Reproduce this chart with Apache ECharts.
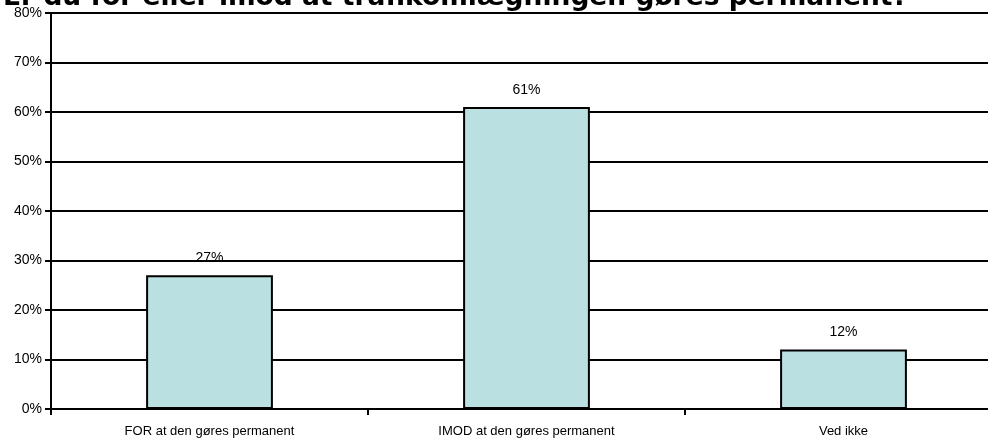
<!DOCTYPE html>
<html>
<head>
<meta charset="utf-8">
<script src="https://cdn.jsdelivr.net/npm/echarts@6/dist/echarts.min.js"></script>
<style>
  html, body { margin: 0; padding: 0; background: #fff; overflow: hidden; }
  #chart { width: 1002px; height: 440px; }
</style>
</head>
<body>
<div id="chart"></div>
<script>
var titleText = 'Er du for eller imod at trafikomlægningen gøres permanent?';
var categories = ['FOR at den gøres permanent', 'IMOD at den gøres permanent', 'Ved ikke'];
var values = [27, 61, 12];
var yTicks = [0, 10, 20, 30, 40, 50, 60, 70, 80];

// the plot runs past the right edge of the window, as in the original
var chart = echarts.init(document.getElementById('chart'));
chart.setOption({
    animation: false,
    title: {
        text: titleText,
        left: -2,
        top: -20,
        textStyle: {
            fontFamily: 'DejaVu Sans',
            fontWeight: 'bold',
            fontSize: 26.5,
            color: '#000'
        }
    },
    grid: {
        left: 51,
        right: 0,
        top: 13,
        bottom: 31,
        containLabel: false
    },
    xAxis: {
        type: 'category',
        data: categories,
        axisLine: { lineStyle: { color: '#000', width: 2 } },
        axisTick: { show: true, length: 6, lineStyle: { color: '#000', width: 2 } },
        axisLabel: {
            color: '#000',
            fontFamily: 'Liberation Sans',
            fontSize: 13,
            margin: 16
        }
    },
    yAxis: {
        type: 'value',
        min: yTicks[0],
        max: yTicks[yTicks.length - 1],
        interval: 10,
        axisLine: { show: true, lineStyle: { color: '#000', width: 2 } },
        axisTick: { show: true, length: 6, lineStyle: { color: '#000', width: 2 } },
        axisLabel: {
            color: '#000',
            fontFamily: 'Liberation Sans',
            fontSize: 14,
            margin: 9,
            formatter: '{value}%'
        },
        splitLine: { lineStyle: { color: '#000', width: 2 } }
    },
    series: [{
        type: 'bar',
        data: values,
        barWidth: '40%',
        itemStyle: {
            color: '#BAE0E2',
            borderColor: '#000',
            borderWidth: 2
        },
        label: {
            show: true,
            position: 'top',
            distance: 10,
            color: '#000',
            fontFamily: 'Liberation Sans',
            fontSize: 14,
            formatter: '{c}%'
        }
    }]
});
</script>
</body>
</html>
